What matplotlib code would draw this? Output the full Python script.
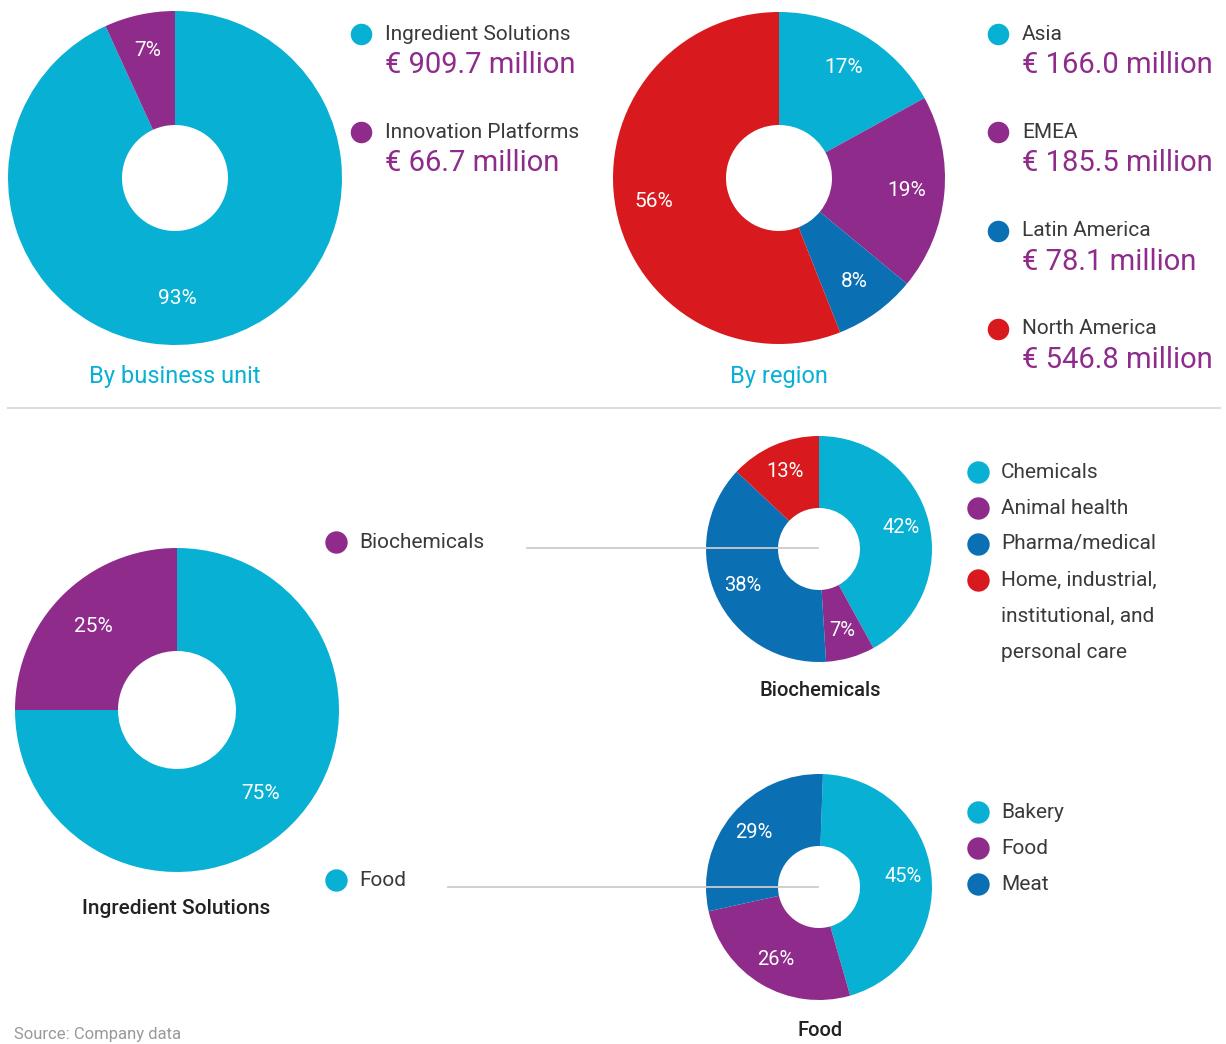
import numpy as np
import matplotlib.pyplot as plt

plt.rcParams['font.family'] = ['Roboto', 'DejaVu Sans']

CYAN = '#08b1d4'
PURPLE = '#8e2b8b'
BLUE = '#0b6fb3'
RED = '#d8191d'
GREY_TXT = '#3a3a3a'

# data
unit_names = ['Ingredient Solutions', 'Innovation Platforms']
unit_sales = [909.7, 66.7]

region_names = ['Asia', 'EMEA', 'Latin America', 'North America']
region_sales = [166.0, 185.5, 78.1, 546.8]

ingr_names = ['Food', 'Biochemicals']
ingr_share = [75, 25]

bio_names = ['Chemicals', 'Animal health', 'Pharma/medical',
             'Home, industrial,\ninstitutional, and\npersonal care']
bio_share = [42, 7, 38, 13]

food_names = ['Bakery', 'Food', 'Meat']
food_share = [45, 26, 29]

W, H = 1226, 1044
fig = plt.figure(figsize=(W / 100, H / 100), dpi=100)
ax = fig.add_axes([0, 0, 1, 1])
ax.set_xlim(0, W)
ax.set_ylim(0, H)
ax.set_aspect('equal')
ax.axis('off')


def Y(p):
    # pixel row -> data y
    return H - p


def donut(vals, colors, cx, cy, r, hole, pctd, fs, start=90):
    wedges, texts, autotexts = ax.pie(
        vals, colors=colors, center=(cx, Y(cy)), radius=r, startangle=start,
        counterclock=False, autopct='%.0f%%', pctdistance=pctd,
        wedgeprops=dict(width=r - hole, linewidth=0),
        textprops=dict(color='white', fontsize=fs), frame=True)
    ax.set_xlim(0, W)
    ax.set_ylim(0, H)
    ax.axis('off')
    return autotexts


# top: by business unit
at = donut(unit_sales, [CYAN, PURPLE], 175, 178, 167, 53, 0.78, 15)
at[0].set_position((177, Y(299)))
ax.text(175, Y(377), 'By business unit', color=CYAN, fontsize=17,
        ha='center', va='center')
for i, (n, v) in enumerate(zip(unit_names, unit_sales)):
    yy = 34 + i * 98
    ax.scatter(361, Y(yy), s=240, color=[CYAN, PURPLE][i], lw=0)
    ax.text(385, Y(yy), n, color=GREY_TXT, fontsize=15, va='center')
    ax.text(385, Y(yy + 31), '€ %.1f million' % v, color=PURPLE,
            fontsize=21, va='center')

# top: by region
donut(region_sales, [CYAN, PURPLE, BLUE, RED], 779, 178, 166, 53, 0.77, 15)
ax.text(779, Y(377), 'By region', color=CYAN, fontsize=17,
        ha='center', va='center')
for i, (n, v) in enumerate(zip(region_names, region_sales)):
    yy = 34 + i * 98.3
    ax.scatter(998, Y(yy), s=240, color=[CYAN, PURPLE, BLUE, RED][i], lw=0)
    ax.text(1022, Y(yy), n, color=GREY_TXT, fontsize=15, va='center')
    ax.text(1022, Y(yy + 31), '€ %.1f million' % v, color=PURPLE,
            fontsize=21, va='center')

# separator
ax.plot([8, 1220], [Y(408), Y(408)], color='#dddddd', lw=1.5)

# bottom: ingredient solutions
donut(ingr_share, [CYAN, PURPLE], 177, 710, 162, 59, 0.73, 15)
ax.text(176, Y(909), 'Ingredient Solutions', color='#222222', fontsize=15,
        ha='center', va='center', fontweight='medium')

# connector lines
ax.plot([527, 818], [Y(548), Y(548)], color='#cccccc', lw=1.3, zorder=5)
ax.plot([448, 818], [Y(887), Y(887)], color='#cccccc', lw=1.3, zorder=5)
ax.scatter(336, Y(542), s=260, color=PURPLE, lw=0)
ax.text(359, Y(542), ingr_names[1], color=GREY_TXT, fontsize=15, va='center')
ax.scatter(336, Y(880), s=260, color=CYAN, lw=0)
ax.text(359, Y(880), ingr_names[0], color=GREY_TXT, fontsize=15, va='center')

# biochemicals
donut(bio_share, [CYAN, PURPLE, BLUE, RED], 819, 549, 113, 41, 0.75, 14.5)
ax.text(820, Y(691), 'Biochemicals', color='#222222', fontsize=14.5,
        ha='center', va='center', fontweight='medium')
for i, n in enumerate(bio_names):
    yy = 472 + i * 36
    ax.scatter(978, Y(yy), s=260, color=[CYAN, PURPLE, BLUE, RED][i], lw=0)
    for j, line in enumerate(n.split('\n')):
        ax.text(1001, Y(yy + j * 36), line, color=GREY_TXT, fontsize=15,
                va='center')

# food
at = donut(food_share, [CYAN, PURPLE, BLUE], 819, 887, 113, 41, 0.75, 14.5,
           start=88)
ax.text(820, Y(1031), 'Food', color='#222222', fontsize=14.5,
        ha='center', va='center', fontweight='medium')
for i, n in enumerate(food_names):
    yy = 812 + i * 36
    ax.scatter(978, Y(yy), s=260, color=[CYAN, PURPLE, BLUE][i], lw=0)
    ax.text(1001, Y(yy), n, color=GREY_TXT, fontsize=15, va='center')

ax.text(14, Y(1042), 'Source: Company data', color='#999999', fontsize=12,
        va='bottom')

fig.savefig('out.png', dpi=100, facecolor='white')
